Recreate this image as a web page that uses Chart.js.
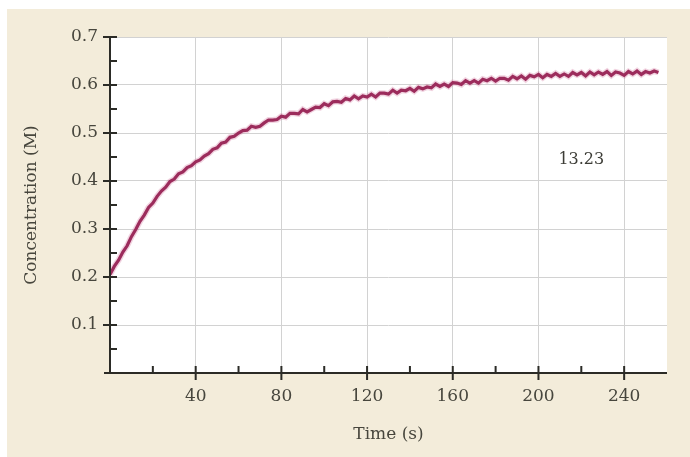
<!DOCTYPE html>
<html>
<head>
<meta charset="utf-8">
<script src="https://cdn.jsdelivr.net/npm/chart.js@4/dist/chart.umd.min.js"></script>
<style>
  html, body { margin: 0; padding: 0; background: #fff; }
  #panel { position: absolute; left: 7px; top: 9px; width: 683px; height: 448px; background: #f3ecda; }
</style>
</head>
<body>
<div id="panel"><canvas id="c" width="683" height="448"></canvas></div>
<script>
// time (s), every 2 s
const times = []
for (let t = 0; t <= 256; t += 2) times.push(t)

// concentration (M)
const conc = [
  0.205, 0.222, 0.235, 0.252, 0.265, 0.284, 0.299, 0.316, 0.329, 0.345,
  0.354, 0.368, 0.379, 0.387, 0.399, 0.404, 0.415, 0.419, 0.428, 0.432,
  0.440, 0.444, 0.452, 0.457, 0.466, 0.469, 0.479, 0.481, 0.491, 0.493,
  0.500, 0.505, 0.506, 0.514, 0.512, 0.514, 0.521, 0.527, 0.527, 0.528,
  0.535, 0.533, 0.541, 0.541, 0.540, 0.549, 0.544, 0.549, 0.554, 0.553,
  0.561, 0.557, 0.565, 0.566, 0.564, 0.572, 0.569, 0.577, 0.571, 0.577,
  0.575, 0.581, 0.575, 0.583, 0.583, 0.581, 0.589, 0.583, 0.589, 0.588,
  0.593, 0.587, 0.595, 0.592, 0.596, 0.594, 0.602, 0.597, 0.602, 0.597,
  0.605, 0.604, 0.601, 0.609, 0.604, 0.609, 0.604, 0.612, 0.609, 0.614,
  0.608, 0.614, 0.614, 0.610, 0.618, 0.613, 0.619, 0.612, 0.620, 0.617,
  0.622, 0.615, 0.622, 0.618, 0.624, 0.618, 0.623, 0.618, 0.626, 0.621,
  0.626, 0.619, 0.627, 0.621, 0.627, 0.622, 0.628, 0.620, 0.627, 0.625,
  0.620, 0.628, 0.623, 0.629, 0.622, 0.628, 0.625, 0.629, 0.626
]

const xTicks = [0, 40, 80, 120, 160, 200, 240]
const xMinor = [20, 60, 100, 140, 180, 220]
const yTicks = [0, 0.1, 0.2, 0.3, 0.4, 0.5, 0.6, 0.7]
const yMinor = [0.05, 0.15, 0.25, 0.35, 0.45, 0.55, 0.65]
const figLabel = ['13.23']
const figLabelAt = [220, 0.444]

const serif = '"DejaVu Serif", "Liberation Serif", serif'
const textCol = '#47463d'

const plotBg = {
  id: 'plotBg',
  beforeDraw(chart) {
    const {ctx, chartArea: a} = chart
    ctx.save()
    ctx.fillStyle = '#ffffff'
    ctx.fillRect(a.left, a.top, a.right - a.left, a.bottom - a.top)
    ctx.restore()
  }
}

const tickMarks = {
  id: 'tickMarks',
  afterDraw(chart) {
    const {ctx, chartArea: a} = chart
    const xs = chart.scales.x, ys = chart.scales.y
    ctx.save()
    ctx.strokeStyle = '#2b2b26'
    ctx.lineWidth = 2
    ctx.beginPath()
    // axis lines
    ctx.moveTo(a.left, a.top); ctx.lineTo(a.left, a.bottom)
    ctx.moveTo(a.left - 6, a.bottom); ctx.lineTo(a.right, a.bottom)
    xTicks.forEach(v => {
      if (v === 0) return
      const p = xs.getPixelForValue(v)
      ctx.moveTo(p, a.bottom - 7); ctx.lineTo(p, a.bottom + 7)
    })
    xMinor.forEach(v => {
      const p = xs.getPixelForValue(v)
      ctx.moveTo(p, a.bottom); ctx.lineTo(p, a.bottom - 7)
    })
    yTicks.forEach(v => {
      if (v === 0) return
      const p = ys.getPixelForValue(v)
      ctx.moveTo(a.left - 7, p); ctx.lineTo(a.left + 7, p)
    })
    yMinor.forEach(v => {
      const p = ys.getPixelForValue(v)
      ctx.moveTo(a.left, p); ctx.lineTo(a.left + 7, p)
    })
    ctx.stroke()
    // figure number
    ctx.fillStyle = '#3c3c36'
    ctx.font = '16px ' + serif
    ctx.textAlign = 'center'
    ctx.textBaseline = 'middle'
    ctx.fillText(figLabel[0], xs.getPixelForValue(figLabelAt[0]), ys.getPixelForValue(figLabelAt[1]))
    ctx.restore()
  }
}

const points = times.map((t, i) => ({x: t, y: conc[i]}))

new Chart(document.getElementById('c'), {
  type: 'line',
  data: {
    datasets: [{
      data: points,
      borderColor: '#9c2c5c',
      borderWidth: 3.2,
      pointRadius: 0,
      tension: 0
    }, {
      data: points,
      borderColor: 'rgba(200,80,130,0.25)',
      borderWidth: 6,
      pointRadius: 0,
      tension: 0
    }]
  },
  options: {
    responsive: false,
    animation: false,
    layout: { padding: { top: 28, right: 23, left: 0, bottom: 0 } },
    plugins: { legend: { display: false }, tooltip: { enabled: false } },
    scales: {
      x: {
        type: 'linear',
        min: 0, max: 260,
        afterBuildTicks: s => { s.ticks = xTicks.map(v => ({value: v})) },
        afterFit: s => { s.height = 84 },
        border: { display: false },
        grid: {
          drawTicks: false,
          color: c => c.tick && c.tick.value === 0 ? 'rgba(0,0,0,0)' : '#d2d2d2',
          lineWidth: 1
        },
        ticks: {
          padding: 13,
          color: textCol,
          font: { family: serif, size: 17 },
          callback: v => v === 0 ? '' : String(v)
        },
        title: {
          display: true,
          text: 'Time (s)',
          color: textCol,
          font: { family: serif, size: 17 },
          padding: { top: 4, bottom: 12 }
        }
      },
      y: {
        min: 0, max: 0.7,
        afterBuildTicks: s => { s.ticks = yTicks.map(v => ({value: v})) },
        afterFit: s => { s.width = 103 },
        border: { display: false },
        grid: {
          drawTicks: false,
          color: c => c.tick && c.tick.value === 0 ? 'rgba(0,0,0,0)' : '#d2d2d2',
          lineWidth: 1
        },
        ticks: {
          padding: 12,
          color: textCol,
          font: { family: serif, size: 17 },
          callback: v => v === 0 ? '' : v.toFixed(1)
        },
        title: {
          display: true,
          text: 'Concentration (M)',
          color: textCol,
          font: { family: serif, size: 17 },
          padding: { top: 14, bottom: 0 }
        }
      }
    }
  },
  plugins: [plotBg, tickMarks]
})
</script>
</body>
</html>
